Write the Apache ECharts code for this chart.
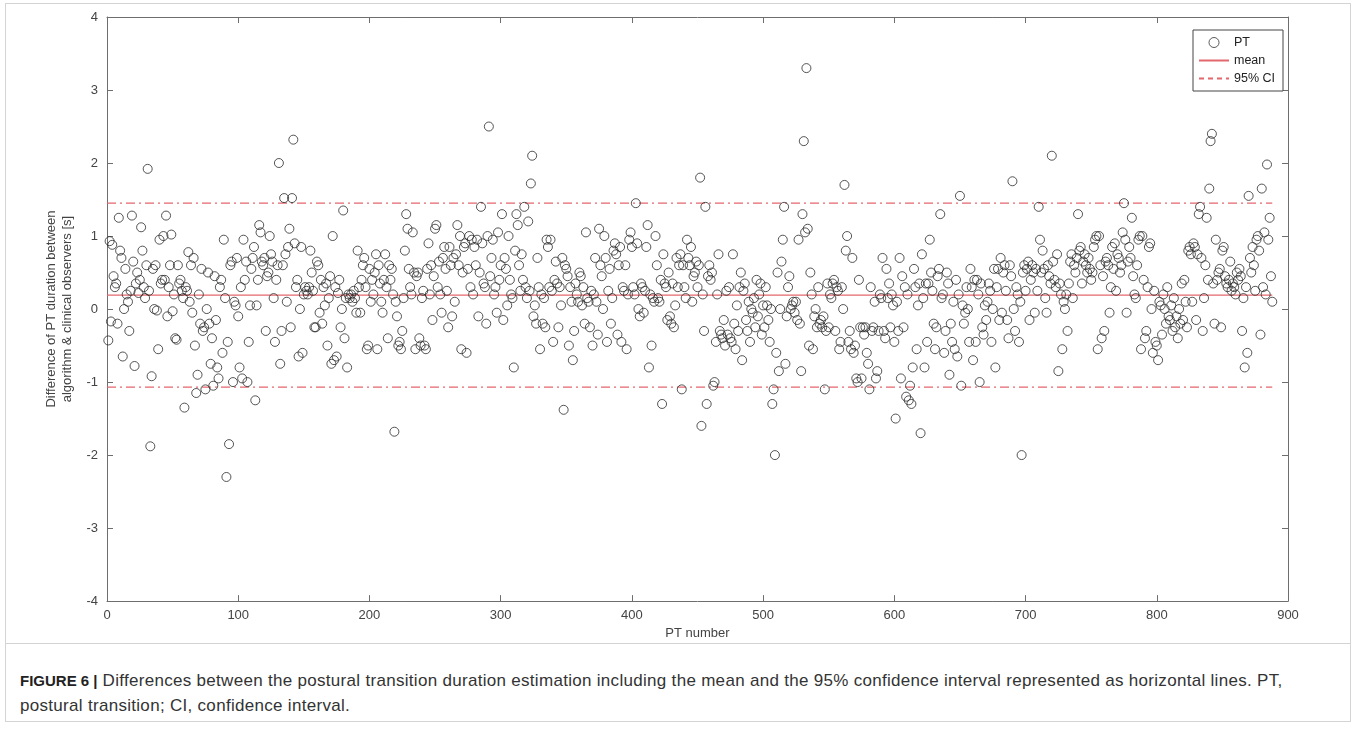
<!DOCTYPE html>
<html>
<head>
<meta charset="utf-8">
<script src="https://cdn.jsdelivr.net/npm/echarts@6/dist/echarts.min.js"></script>
<style>
  html, body { margin: 0; padding: 0; background: #fff; }
  #page { position: relative; width: 1357px; height: 729px; overflow: hidden; }
  #frame { position: absolute; left: 5px; top: 3px; width: 1344px; height: 717px; border: 1px solid #d4d4d4; }
  #sep { position: absolute; left: 5px; top: 643px; width: 1345px; height: 1px; background: #d4d4d4; }
  #diffChart { position: absolute; left: 0; top: 0; width: 1357px; height: 645px; }
  #caption { position: absolute; left: 20px; top: 668px; width: 1320px; font-family: "Liberation Sans", Arial, sans-serif;
    font-size: 17px; letter-spacing: 0.3px; line-height: 25px; color: #333; }
  #caption b { color: #222; font-size: 15px; letter-spacing: 0; }
</style>
</head>
<body>
<div id="page">
  <div id="frame"></div>
  <div id="sep"></div>
  <div id="diffChart"></div>
  <div id="caption"><b>FIGURE 6 |</b> Differences between the postural transition duration estimation including the mean and the 95% confidence interval represented as horizontal lines. PT, postural transition; CI, confidence interval.</div>
</div>
<script>
// difference per PT [s], 100 PTs per array
var pt001 = [-0.43, 0.93, -0.17, 0.88, 0.45, 0.3, 0.35, -0.2, 1.25, 0.8,
  0.7, -0.65, 0.0, 0.55, 0.2, 0.1, -0.3, 0.25, 1.28, 0.65,
  -0.78, 0.35, 0.5, 0.22, 0.4, 1.12, 0.8, 0.3, 0.15, 0.6,
  1.92, 0.25, -1.88, -0.92, 0.55, 0.0, 0.6, -0.02, -0.55, 0.95,
  0.35, 0.4, 1.0, 0.4, 1.28, -0.1, 0.3, 0.6, 1.02, -0.03,
  0.2, -0.4, -0.42, 0.6, 0.35, 0.4, 0.25, 0.15, -1.35, 0.3,
  0.25, 0.78, 0.1, 0.6, -0.05, 0.7, -0.5, -1.15, -0.9, 0.2,
  -0.2, 0.55, -0.3, -0.25, -1.1, 0.0, 0.5, -0.2, -0.75, -0.4,
  -1.05, 0.45, -0.15, -0.8, -0.95, 0.3, 0.4, -0.6, 0.95, 0.15,
  -2.3, -0.45, -1.85, 0.6, 0.65, -1.0, 0.1, 0.05, 0.7, -0.1];
var pt101 = [-0.8, 0.3, -0.95, 0.95, 0.4, 0.65, -1.0, -0.45, 0.05, 0.55,
  0.7, 0.85, -1.25, 0.05, 0.4, 1.15, 1.05, 0.65, 0.6, 0.7,
  -0.3, 0.45, 0.5, 1.0, 0.75, 0.65, 0.15, -0.45, 0.4, 0.6,
  2.0, -0.75, -0.3, 0.6, 1.52, 0.75, 0.1, 0.85, 1.1, -0.25,
  1.52, 2.32, 0.9, 0.3, 0.4, -0.65, 0.0, 0.85, -0.6, 0.2,
  0.3, 0.25, 0.2, 0.3, 0.8, 0.5, 0.25, -0.25, -0.25, 0.65,
  0.6, -0.05, 0.4, -0.2, 0.3, 0.05, 0.35, -0.5, 0.15, 0.45,
  -0.75, 1.0, -0.7, 0.3, -0.65, 0.22, 0.4, -0.25, 0.0, 1.35,
  -0.4, 0.15, -0.8, 0.2, 0.15, 0.2, 0.1, 0.25, 0.15, -0.05,
  0.8, 0.3, -0.05, 0.4, 0.6, 0.7, 0.3, -0.55, -0.5, 0.55];
var pt201 = [0.1, 0.4, 0.2, 0.5, 0.75, -0.55, 0.6, 0.35, 0.1, -0.05,
  0.4, 0.75, 0.3, -0.4, 0.6, 0.4, 0.55, 0.2, -1.68, 0.1,
  -0.1, -0.5, -0.45, -0.55, -0.3, 0.15, 0.8, 1.3, 1.1, 0.55,
  0.3, 0.2, 1.05, 0.5, -0.55, 0.45, 0.5, -0.4, -0.5, 0.15,
  0.25, -0.5, -0.55, 0.55, 0.9, 0.2, 0.6, -0.15, 0.45, 1.1,
  1.15, 0.3, 0.65, 0.2, -0.05, 0.7, 0.85, 0.55, 0.25, -0.25,
  0.85, 0.6, -0.1, 0.7, 0.1, 0.75, 1.15, 0.6, 1.0, -0.55,
  0.5, 0.85, 0.9, -0.6, 0.55, 1.0, 0.3, 0.95, 0.2, 0.85,
  0.6, 0.95, -0.1, 0.5, 1.4, 0.9, 0.35, 0.3, -0.2, 1.0,
  2.5, 0.45, 0.7, 0.95, 0.2, 0.3, -0.05, 1.05, 0.4, 0.6];
var pt301 = [1.3, -0.15, 0.7, 0.55, 0.05, 1.0, 0.4, 0.2, 0.15, -0.8,
  0.8, 1.3, 1.15, 0.6, 0.25, 0.75, 0.4, 1.4, 0.3, 0.15,
  1.2, 0.25, 1.72, 2.1, -0.1, 0.05, -0.2, 0.7, 0.3, -0.55,
  0.2, -0.2, 0.15, -0.25, 0.95, 0.85, 0.3, 0.95, 0.25, -0.45,
  0.4, 0.65, 0.35, -0.25, 0.3, 0.05, 0.7, -1.38, 0.6, 0.55,
  0.45, -0.5, 0.3, 0.1, -0.7, -0.3, 0.35, 0.2, 0.1, 0.5,
  0.45, 0.05, 0.3, -0.2, 1.05, 0.15, 0.1, -0.25, 0.25, -0.5,
  0.2, 0.7, 0.1, -0.35, 1.1, 0.6, 0.45, 0.0, 1.0, 0.7,
  -0.45, 0.25, 0.55, -0.2, 0.15, 0.8, 0.9, 0.75, -0.35, 0.6,
  0.85, -0.45, 0.3, 0.25, 0.6, -0.55, 0.2, 0.95, 1.05, 0.85];
var pt401 = [0.3, 0.2, 1.45, 0.9, 0.0, -0.1, 0.35, 0.3, -0.05, 0.25,
  0.85, 1.15, -0.8, 0.2, -0.5, 0.15, 0.1, 1.0, 0.6, 0.15,
  0.1, 0.4, -1.3, 0.75, 0.35, 0.3, -0.15, 0.5, -0.1, -0.2,
  0.35, -0.25, 0.05, 0.7, 0.3, 0.6, 0.75, -1.1, 0.6, 0.3,
  0.15, 0.95, 0.7, 0.6, 0.85, 0.1, 0.45, 0.5, 0.65, 0.3,
  0.6, 1.8, -1.6, 0.2, -0.3, 1.4, -1.3, 0.45, 0.6, 0.4,
  0.5, -1.05, -1.0, -0.45, 0.2, 0.75, -0.3, -0.35, -0.4, -0.15,
  -0.5, 0.25, -0.35, 0.3, -0.4, -0.45, 0.75, -0.2, -0.55, 0.05,
  -0.3, 0.3, 0.5, -0.7, 0.25, 0.35, -0.15, -0.3, 0.1, -0.45,
  0.0, -0.05, 0.15, -0.25, 0.4, -0.1, 0.2, 0.35, -0.35, 0.05];
var pt501 = [-0.25, 0.3, 0.05, -0.15, -0.45, 0.0, -1.3, -1.1, -2.0, -0.6,
  0.5, -0.85, 0.0, 0.65, 0.95, 1.4, -0.75, -0.1, 0.3, 0.45,
  0.0, 0.05, 0.1, -0.05, 0.1, -0.15, 0.95, -0.2, -0.85, 1.3,
  2.3, 1.05, 3.3, 1.1, -0.5, 0.5, 0.2, -0.55, -0.1, 0.0,
  -0.25, 0.3, -0.2, -0.15, -0.25, -0.1, -1.1, -0.3, 0.35, -0.25,
  0.2, 0.15, 0.35, 0.4, -0.3, 0.3, 0.25, -0.55, -0.45, 0.3,
  0.0, 1.7, 0.8, 1.0, -0.45, -0.3, -0.55, 0.7, -0.6, -0.5,
  -0.95, -1.0, 0.4, -0.25, -0.95, -0.25, -0.35, -0.25, -0.6, -0.75,
  -1.1, 0.3, -0.3, -0.25, 0.1, -0.95, -0.85, -0.3, 0.2, 0.15,
  0.7, -0.3, -0.4, 0.55, 0.15, 0.35, -0.25, 0.2, 0.05, -0.45];
var pt601 = [-1.5, 0.1, -0.3, 0.7, -0.95, 0.45, -0.25, 0.3, -1.2, 0.2,
  -1.25, -1.05, -1.3, -0.8, 0.55, 0.3, -0.55, 0.05, 0.35, -1.7,
  0.75, 0.15, -0.8, 0.35, -0.45, 0.35, 0.95, 0.5, 0.25, -0.2,
  -0.55, -0.25, 0.45, 0.55, 1.3, 0.15, 0.2, -0.6, -0.3, 0.5,
  0.35, -0.9, -0.2, -0.45, 0.1, -0.55, 0.4, -0.65, 0.2, 1.55,
  -1.05, 0.05, -0.2, -0.05, 0.3, 0.0, -0.45, 0.55, 0.3, -0.7,
  0.4, -0.45, 0.4, 0.2, -1.0, 0.35, -0.25, -0.35, 0.05, -0.15,
  0.1, 0.35, 0.25, -0.45, 0.0, 0.55, -0.8, 0.3, 0.55, -0.15,
  0.7, -0.05, 0.5, 0.6, 0.25, -0.15, -0.4, 0.6, 0.45, 1.75,
  0.0, -0.3, 0.3, 0.2, -0.45, 0.1, -2.0, 0.5, 0.6, 0.25];
var pt701 = [0.55, 0.65, -0.15, 0.4, 0.6, 0.5, -0.05, 0.55, 0.25, 1.4,
  0.95, 0.5, 0.8, 0.55, 0.15, -0.05, 0.6, 0.45, 0.35, 2.1,
  0.65, 0.4, 0.3, 0.75, -0.85, 0.35, 0.2, -0.55, 0.1, 0.0,
  0.2, -0.3, 0.35, 0.65, 0.75, 0.15, 0.6, 0.5, 0.7, 1.3,
  0.8, 0.85, 0.35, 0.65, 0.75, 0.6, 0.5, 0.7, 0.55, 0.4,
  0.5, 0.85, 0.95, 1.0, -0.55, 1.0, 0.6, -0.4, 0.45, -0.3,
  0.65, 0.7, 0.6, -0.05, 0.3, 0.85, 0.55, 0.9, 0.25, 0.75,
  0.7, 0.5, 0.6, 1.05, 1.45, 0.95, -0.05, 0.65, 0.85, 0.7,
  1.25, 0.45, 0.2, 0.15, 0.6, 0.95, 1.0, -0.55, 1.0, 0.4,
  -0.4, -0.3, 0.3, 0.85, 0.9, 0.0, -0.6, 0.25, -0.45, -0.5];
var pt801 = [-0.7, 0.1, 0.05, -0.35, 0.2, 0.0, -0.2, 0.3, -0.1, -0.15,
  0.05, -0.3, 0.15, -0.25, -0.1, -0.4, 0.0, -0.2, 0.35, -0.15,
  0.4, 0.1, -0.25, 0.8, 0.85, 0.75, 0.1, 0.9, 0.85, -0.15,
  0.75, 1.3, 1.4, 0.7, -0.3, 0.15, 0.6, 1.25, 0.4, 1.65,
  2.3, 2.4, 0.35, -0.2, 0.95, 0.4, 0.5, 0.55, -0.25, 0.8,
  0.85, 0.45, 0.35, 0.3, 0.4, 0.65, 0.25, 0.35, 0.3, 0.2,
  0.5, 0.4, 0.55, 0.45, -0.3, 0.15, -0.8, 0.3, -0.6, 1.55,
  0.7, 0.5, 0.85, 0.6, 0.25, 0.95, 1.0, 0.8, -0.35, 1.65,
  0.3, 1.05, 0.2, 1.98, 0.95, 1.25, 0.45, 0.1];

// mean and 95% CI limits [s]
var meanDiff = [0.19];
var ciLimits = [1.45, -1.07];

var xTicks = [0, 900, 100];
var yTicks = [-4, 4, 1];

var ptDiff = [].concat(pt001, pt101, pt201, pt301, pt401, pt501, pt601, pt701, pt801);
var ptPoints = ptDiff.map(function (v, i) { return [i + 1, v]; });
var nPt = ptDiff.length;

var fontName = '"Liberation Sans", Arial, sans-serif';
var axisGrey = '#6e6e6e';
var redLine = '#e4676d';

function hLine(v) {
  return [[0, v], [nPt, v]];
}

var diffChart = echarts.init(document.getElementById('diffChart'));

var plainAxis = {
  axisLine: { show: true, onZero: false, lineStyle: { color: axisGrey, width: 1 } },
  axisTick: { show: true, inside: true, length: 6, lineStyle: { color: axisGrey } },
  splitLine: { show: false }
};

var option = {
  animation: false,
  textStyle: { fontFamily: fontName },
  grid: { left: 107, right: 69, top: 17, bottom: 42 },
  legend: {
    orient: 'vertical',
    right: 74,
    top: 30,
    padding: [6, 8, 6, 5],
    itemGap: 5,
    itemWidth: 30,
    itemHeight: 10,
    backgroundColor: '#fff',
    borderColor: '#444',
    borderWidth: 1,
    borderRadius: 0,
    textStyle: { fontFamily: fontName, fontSize: 12.5, color: '#222' },
    data: [
      { name: 'PT', icon: 'circle', itemStyle: { color: 'transparent', borderColor: '#333', borderWidth: 1 } },
      { name: 'mean', itemStyle: { opacity: 0 } },
      { name: '95% CI', itemStyle: { opacity: 0 }, lineStyle: { type: [5, 4] } }
    ]
  },
  xAxis: [
    Object.assign({
      type: 'value', min: xTicks[0], max: xTicks[1], interval: xTicks[2],
      name: 'PT number', nameLocation: 'middle', nameGap: 23,
      nameTextStyle: { fontSize: 13, color: '#444' },
      axisLabel: { fontSize: 13, color: '#444', margin: 8 }
    }, plainAxis),
    Object.assign({
      type: 'value', position: 'top', min: xTicks[0], max: xTicks[1], interval: xTicks[2],
      axisLabel: { show: false }
    }, plainAxis)
  ],
  yAxis: [
    Object.assign({
      type: 'value', min: yTicks[0], max: yTicks[1], interval: yTicks[2],
      name: 'Difference of PT duration between\nalgorithm & clinical observers [s]',
      nameLocation: 'middle', nameGap: 32,
      nameTextStyle: { fontSize: 13, color: '#444', lineHeight: 16 },
      axisLabel: { fontSize: 13, color: '#444', margin: 9 }
    }, plainAxis),
    Object.assign({
      type: 'value', position: 'right', min: yTicks[0], max: yTicks[1], interval: yTicks[2],
      axisLabel: { show: false }
    }, plainAxis)
  ],
  series: [
    {
      name: 'mean',
      type: 'line',
      data: hLine(meanDiff[0]),
      symbol: 'none',
      color: redLine,
      lineStyle: { color: redLine, width: 1.2 },
      z: 1
    },
    {
      name: '95% CI',
      type: 'line',
      data: hLine(ciLimits[0]),
      symbol: 'none',
      color: redLine,
      lineStyle: { color: redLine, width: 1.2, type: [9, 4, 2, 4] },
      z: 1
    },
    {
      name: '95% CI',
      type: 'line',
      data: hLine(ciLimits[1]),
      symbol: 'none',
      color: redLine,
      lineStyle: { color: redLine, width: 1.2, type: [9, 4, 2, 4] },
      z: 1
    },
    {
      name: 'PT',
      type: 'scatter',
      data: ptPoints,
      symbol: 'circle',
      symbolSize: 9,
      itemStyle: { color: 'transparent', borderColor: '#2b2b2b', borderWidth: 1 },
      z: 3
    }
  ]
};

diffChart.setOption(option);
</script>
</body>
</html>
